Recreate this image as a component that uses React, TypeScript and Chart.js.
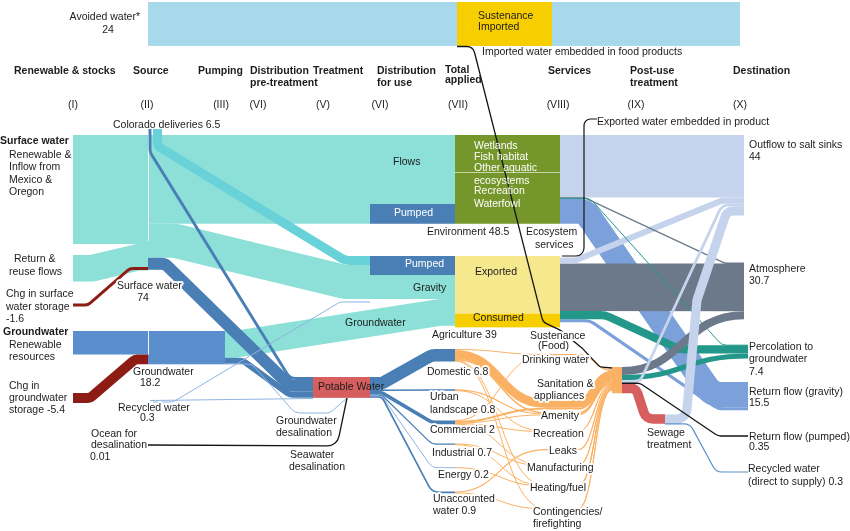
import React, { useEffect, useRef } from 'react';
import { Chart, registerables } from 'chart.js';

Chart.register(...registerables);

// ---------------- DATA (volumes) ----------------
const avoidedWater = 24;

const stockNames = ['Renewable & inflow', 'Return & reuse flows', 'Chg in surface water storage', 'Groundwater renewable resources', 'Chg in groundwater storage'];
const stockValues = [59.5, 14.5, -1.6, 12.8, -5.4];

const sourceNames = ['Surface water', 'Groundwater', 'Colorado deliveries', 'Recycled water', 'Ocean for desalination'];
const sourceValues = [74, 18.2, 6.5, 0.3, 0.01];

// surface water -> env flows, env pumped, agriculture, potable
const surfaceSplit = [37.7, 10.8, 18.6, 6.5];
// Colorado -> agriculture, potable
const coloradoSplit = [4.9, 1.6];
// groundwater -> agriculture, potable, desalination
const groundwaterSplit = [14.6, 3.3, 0.3];
// recycled -> agriculture, potable
const recycledSplit = [0.15, 0.15];
const agPumped = 10.4;

const appliedNames = ['Environment', 'Agriculture', 'Domestic', 'Urban landscape', 'Commercial', 'Industrial', 'Energy', 'Unaccounted water'];
const appliedValues = [48.5, 39, 6.8, 0.8, 2, 0.7, 0.2, 0.9];
const agricultureSplit = [31.5, 7.5]; // exported, consumed

const serviceNames = ['Drinking water', 'Sanitation & appliances', 'Amenity', 'Recreation', 'Leaks', 'Manufacturing', 'Heating/fuel', 'Contingencies/firefighting'];
// [applied index, service index, value]
const serviceFlows: [number, number, number][] = [
  [2, 0, 0.5], [2, 1, 4.8], [2, 2, 0.8], [2, 6, 0.3], [2, 7, 0.4],
  [3, 2, 0.6], [3, 3, 0.2],
  [4, 0, 0.2], [4, 1, 1.0], [4, 2, 0.4], [4, 3, 0.2], [4, 5, 0.2],
  [5, 5, 0.5], [5, 6, 0.2],
  [6, 6, 0.2],
  [7, 4, 0.7], [7, 7, 0.2],
];

// environment -> outflow, atmosphere, percolation, return (gravity)
const envOut = [34.2, 0.3, 0.2, 13.8];
// agriculture -> outflow, atmosphere, percolation, return (gravity)
const agOut = [3.3, 26, 4.4, 1.7];
// post-use -> atmosphere, percolation, outflow, return (pumped), sewage
const postOut = [4.4, 2.8, 1.5, 0.35, 5.3];
// sewage -> outflow, recycled
const sewageOut = [5.0, 0.3];

const destNames = ['Outflow to salt sinks', 'Atmosphere', 'Percolation to groundwater', 'Return flow (gravity)', 'Return flow (pumped)', 'Recycled water (direct to supply)'];
const destValues = [44, 30.7, 7.4, 15.5, 0.35, 0.3];

// ---------------- LAYOUT & STYLE ----------------
const K = 1.83; // layout units per volume unit
const FONT = '"Liberation Sans", Arial, sans-serif';
const C = {
  avoided: '#a8d8ec', gold: '#f7ce00', teal: '#8ce0d8', colorado: '#68d2d8', blue: '#4a7fb6',
  gw: '#5b8ecc', red: '#8c1c14', potable: '#d65e5e', green: '#74962a', exported: '#f6e88c',
  consumed: '#f7ce00', outflow: '#c5d4ec', ret: '#7ca0da', grey: '#6b798a', perc: '#23988a',
  orange: '#fbb163', light: '#8fb3e0', black: '#151515',
};
const appliedTops = [349, 389.3, 420.5, 443.5, 467.5, 491.5];
const serviceTops = [354, 399, 412, 431, 449, 465, 485, 508];

type P = [number, number];
const link = (x0: number, y0: number, xa: number, xb: number, x1: number, y1: number): P[] => [[x0, y0], [xa, y0], [xb, y1], [x1, y1]];

const sankeyPlugin = {
  id: 'waterSankey',
  afterDraw(chart: any) {
    const ctx: CanvasRenderingContext2D = chart.ctx;
    const xs = chart.scales.x, ys = chart.scales.y;
    const X = (v: number) => xs.getPixelForValue(v);
    const Y = (v: number) => ys.getPixelForValue(v);
    const T = (v: number) => Math.abs(v) * K;
    const W = (v: number, min = 1) => Math.max(min, Math.abs(Y(T(v)) - Y(0)));
    const sum = (a: number[]) => a.reduce((s, v) => s + v, 0);
    const stackC = (top: number, vals: number[]) => {
      let y = top;
      return vals.map((v) => { const c = y + T(v) / 2; y += T(v); return c; });
    };

    const rect = (x0: number, x1: number, top: number, value: number, color: string) => {
      ctx.fillStyle = color;
      ctx.fillRect(X(x0), Y(top), X(x1) - X(x0), Y(top + T(value)) - Y(top));
    };
    const trace = (pts: P[], mode: string, r: number) => {
      const q = pts.map(([x, y]) => [X(x), Y(y)]);
      ctx.beginPath();
      ctx.moveTo(q[0][0], q[0][1]);
      if (mode === 'curve') {
        for (let i = 1; i < q.length; i++) {
          const [x0, y0] = q[i - 1];
          const [x1, y1] = q[i];
          const dx = (x1 - x0) * r;
          ctx.bezierCurveTo(x0 + dx, y0, x1 - dx, y1, x1, y1);
        }
      } else {
        for (let i = 1; i < q.length - 1; i++) {
          const [ax, ay] = q[i - 1];
          const [bx, by] = q[i];
          const [cx, cy] = q[i + 1];
          const l1 = Math.hypot(bx - ax, by - ay);
          const l2 = Math.hypot(cx - bx, cy - by);
          ctx.arcTo(bx, by, cx, cy, Math.min(r, l1 / 2, l2 / 2));
        }
        ctx.lineTo(q[q.length - 1][0], q[q.length - 1][1]);
      }
    };
    const flow = (pts: P[], value: number, color: string, mode = 'round', r = 14, min = 1) => {
      trace(pts, mode, r);
      ctx.lineWidth = W(value, min);
      ctx.strokeStyle = color;
      ctx.lineCap = 'butt';
      ctx.lineJoin = 'round';
      ctx.stroke();
    };
    const line = (pts: P[], color: string, w: number, r = 10) => {
      trace(pts, 'round', r);
      ctx.lineWidth = w;
      ctx.strokeStyle = color;
      ctx.lineCap = 'butt';
      ctx.lineJoin = 'round';
      ctx.stroke();
    };
    const txt = (s: string, x: number, y: number, o: any = {}) => {
      ctx.font = `${o.bold ? 'bold ' : ''}10.5px ${FONT}`;
      ctx.textAlign = o.align || 'left';
      ctx.textBaseline = 'middle';
      if (o.halo) {
        ctx.strokeStyle = 'rgba(255,255,255,0.95)';
        ctx.lineWidth = 4;
        ctx.lineJoin = 'round';
        ctx.strokeText(s, X(x), Y(y));
      }
      ctx.fillStyle = o.color || '#1c1c1c';
      ctx.fillText(s, X(x), Y(y));
    };

    ctx.save();

    // ---- avoided water / imported sustenance ----
    rect(148, 740, 2, avoidedWater, C.avoided);
    rect(457, 552, 2, avoidedWater, C.gold);

    // ---- renewable & stocks -> sources ----
    const renewC = 135 + T(stockValues[0]) / 2;
    flow([[73, renewC], [148, renewC]], stockValues[0], C.teal);
    const swRenewBottom = 135 + T(stockValues[0]);
    flow(link(73, 255 + T(stockValues[1]) / 2, 92, 138, 148, swRenewBottom + T(stockValues[1]) / 2), stockValues[1], C.teal, 'round', 20);

    const swC = stackC(135, surfaceSplit);
    const agIn = stackC(256, [coloradoSplit[0], surfaceSplit[2], groundwaterSplit[0]]);
    const potIn = stackC(377, [coloradoSplit[1], surfaceSplit[3], groundwaterSplit[1]]);
    const gwC = stackC(331, groundwaterSplit);

    flow([[148, swC[0]], [455, swC[0]]], surfaceSplit[0], C.teal);
    flow([[148, swC[1]], [370, swC[1]]], surfaceSplit[1], C.teal);
    flow(link(148, swC[2], 175, 345, 455, agIn[1]), surfaceSplit[2], C.teal, 'round', 25);
    flow(link(225, gwC[0], 235, 440, 455, agIn[2]), groundwaterSplit[0], C.teal, 'round', 60);

    // faint separator of the surface-water node
    ctx.fillStyle = 'rgba(255,255,255,0.9)';
    ctx.fillRect(X(148), Y(135), 1, Y(swC[2]) - Y(135));

    // Colorado deliveries
    flow([[157.5, 129], [157.5, 146], [345, agIn[0]], [455, agIn[0]]], coloradoSplit[0], C.colorado, 'round', 14);

    // storage changes
    flow(link(73, 305, 88, 130, 148, 268.5), stockValues[2], C.red, 'round', 8);
    const gwRenC = 331 + T(stockValues[3]) / 2;
    flow([[73, gwRenC], [148, gwRenC]], stockValues[3], C.gw);
    flow(link(73, 393 + T(stockValues[4]) / 2, 90, 135, 148, 331 + T(stockValues[3]) + T(stockValues[4]) / 2), stockValues[4], C.red, 'round', 14);
    rect(148, 225, 331, sourceValues[1], C.gw);
    ctx.fillStyle = 'rgba(255,255,255,0.9)';
    ctx.fillRect(X(148), Y(331), 1, Y(331 + T(stockValues[3])) - Y(331));

    // to potable water
    flow([[150, 129], [150, 152], [290, potIn[0]], [313, potIn[0]]], coloradoSplit[1], C.blue, 'round', 10);
    flow(link(148, swC[3], 165, 290, 313, potIn[1]), surfaceSplit[3], C.blue, 'round', 16);
    flow(link(225, gwC[1], 243, 290, 313, potIn[2]), groundwaterSplit[1], C.blue, 'round', 10);
    flow([[225, gwC[2]], [252, gwC[2]], [295, 413], [330, 413], [347, 398]], groundwaterSplit[2], C.light, 'round', 10, 1);
    flow([[153, 402], [173, 402], [340, 302], [370, 302]], recycledSplit[0], C.light, 'round', 10, 1);
    flow([[150, 400.5], [313, 398.5]], recycledSplit[1], C.light, 'round', 10, 1);
    flow([[148, 445], [337, 446], [347, 398]], sourceValues[4], C.black, 'round', 12, 1.3);

    // distribution boxes
    rect(370, 455, swC[1] - T(surfaceSplit[1]) / 2, surfaceSplit[1], C.blue);
    rect(370, 455, 256, agPumped, C.blue);

    // potable water node and its distribution
    const potableTotal = sum(appliedValues.slice(2));
    rect(313, 370, 377, potableTotal, C.potable);
    const potOut = stackC(377, appliedValues.slice(2));
    appliedValues.slice(2).forEach((v, i) => {
      const aC = appliedTops[i] + T(v) / 2;
      const col = i === 4 ? C.light : C.blue;
      flow(link(370, potOut[i], 382, 432, 455, aC), v, col, 'round', 30, 1);
    });

    // total applied nodes
    rect(455, 560, 135, appliedValues[0], C.green);
    ctx.fillStyle = 'rgba(255,255,255,0.6)';
    ctx.fillRect(X(455), Y(172), X(560) - X(455), 1);
    rect(455, 560, 256, agricultureSplit[0], C.exported);
    rect(455, 560, 256 + T(agricultureSplit[0]), agricultureSplit[1], C.consumed);

    // ---- right side ----
    const envC = stackC(135, envOut);
    const agC = stackC(257.5, agOut);
    const postTop = 367;
    const postC = stackC(postTop, postOut);
    const outC = stackC(135, [envOut[0], agOut[0], postOut[2], sewageOut[0]]);
    const atmC = stackC(263, [envOut[1], agOut[1], postOut[0]]);
    const percC = stackC(345, [envOut[2], agOut[2], postOut[1]]);
    const retC = stackC(382, [envOut[3], agOut[3]]);
    const sewTop = 419 - T(sewageOut[0]) / 2;
    const sewC = stackC(sewTop, sewageOut);

    flow([[560, envC[0]], [744, outC[0]]], envOut[0], C.outflow);
    flow(link(560, envC[3], 585, 712, 748, retC[0]), envOut[3], C.ret, 'round', 30);
    flow([[560, agC[1]], [744, atmC[1]]], agOut[1], C.grey);
    flow(link(560, agC[3], 590, 718, 748, retC[1]), agOut[3], C.ret, 'round', 15);
    flow(link(560, agC[0], 575, 722, 744, outC[1]), agOut[0], C.outflow, 'round', 30);
    flow(link(560, envC[1], 585, 725, 744, atmC[0]), envOut[1], C.grey, 'round', 10, 1.3);
    flow(link(560, envC[2], 590, 722, 748, percC[0]), envOut[2], C.perc, 'round', 10, 1);
    flow(link(560, agC[2], 605, 680, 748, percC[1]), agOut[2], C.perc, 'round', 20);

    // post-use outputs
    flow([[622, postC[0]], [744, atmC[2]]], postOut[0], C.grey, 'curve', 0.5);
    flow([[622, postC[1]], [748, percC[2]]], postOut[1], C.perc, 'curve', 0.5);
    flow(link(622, postC[2], 640, 722, 744, outC[2]), postOut[2], C.outflow, 'round', 15);
    flow([[665, sewC[0]], [686, sewC[0]], [697, 300], [727, outC[3]], [744, outC[3]]], sewageOut[0], C.outflow, 'round', 14);
    flow([[622, postC[4]], [636, postC[4]], [646, 419], [665, 419]], postOut[4], C.potable, 'round', 10);
    flow(link(622, postC[3], 640, 718, 748, 436), postOut[3], C.black, 'round', 10, 1.3);
    flow(link(665, sewC[1], 690, 716, 748, 472), sewageOut[1], C.gw, 'round', 10, 1.2);

    // ---- orange service flows ----
    const aOff = appliedTops.map((t) => t);
    const sOff = serviceTops.map((t) => t);
    let pOff = 369.5;
    const byApplied = [...serviceFlows].sort((a, b) => a[0] - b[0] || a[1] - b[1]);
    const startC = new Map<number, number>();
    byApplied.forEach((f, k) => { const i = f[0] - 2; startC.set(k, aOff[i] + T(f[2]) / 2); aOff[i] += T(f[2]); });
    const idxs = byApplied.map((_, k) => k);
    const svcC = new Map<number, number>();
    [...idxs].sort((a, b) => byApplied[a][1] - byApplied[b][1] || byApplied[a][0] - byApplied[b][0]).forEach((k) => {
      const f = byApplied[k];
      svcC.set(k, sOff[f[1]] + T(f[2]) / 2); sOff[f[1]] += T(f[2]);
    });
    const postInC = new Map<number, number>();
    [...idxs].sort((a, b) => byApplied[a][1] - byApplied[b][1] || byApplied[a][0] - byApplied[b][0]).forEach((k) => {
      const f = byApplied[k];
      postInC.set(k, pOff + T(f[2]) / 2); pOff += T(f[2]);
    });
    idxs.forEach((k) => {
      const f = byApplied[k];
      const sc = svcC.get(k)!;
      flow([[455, startC.get(k)!], [545, sc], [578, sc], [612, postInC.get(k)!]], f[2], C.orange, 'curve', 0.5, 1);
    });
    const postTotal = sum(postOut);
    rect(612, 622, postTop, postTotal, C.orange);

    // ---- ecosystem services box & annotation lines ----
    ctx.fillStyle = '#ffffff';
    ctx.beginPath();
    (ctx as any).roundRect(X(425), Y(226), X(584) - X(425), Y(256) - Y(226), 8);
    ctx.fill();
    line([[597, 119], [584, 119], [584, 256], [562, 256]], C.black, 1.2, 8);
    line([[457, 46.5], [473, 46.5], [543, 322], [560, 330], [582, 348], [600, 367], [612, 368]], C.black, 1.3, 8);

    // ---- texts ----
    txt('Avoided water*', 140, 17, { align: 'right' });
    txt(`${avoidedWater}`, 108, 30, { align: 'center' });
    txt('Sustenance', 478, 16);
    txt('Imported', 478, 27);
    txt('Imported water embedded in food products', 482, 52);

    const headers: [string, number, number][] = [
      ['Renewable & stocks', 14, 71], ['Source', 133, 71], ['Pumping', 198, 71], ['Distribution', 250, 71],
      ['pre-treatment', 250, 83], ['Treatment', 313, 71], ['Distribution', 377, 71], ['for use', 377, 83],
      ['Total', 445, 70], ['applied', 445, 80], ['Services', 548, 71], ['Post-use', 630, 71],
      ['treatment', 630, 83], ['Destination', 733, 71],
    ];
    headers.forEach(([s, x, y]) => txt(s, x, y, { bold: true }));
    const numerals: [string, number][] = [['(I)', 73], ['(II)', 147], ['(III)', 221], ['(VI)', 258], ['(V)', 323], ['(VI)', 380], ['(VII)', 458], ['(VIII)', 558], ['(IX)', 636], ['(X)', 740]];
    numerals.forEach(([s, x]) => txt(s, x, 105, { align: 'center' }));

    txt(`${sourceNames[2]} ${sourceValues[2]}`, 113, 125);
    txt('Exported water embedded in product', 597, 122);

    txt('Surface water', 0, 141, { bold: true });
    ['Renewable &', 'Inflow from', 'Mexico &', 'Oregon'].forEach((s, i) => txt(s, 9, [155, 167, 180, 192][i]));
    txt('Return &', 14, 259);
    txt('reuse flows', 9, 272);
    txt('Chg in surface', 6, 294);
    txt('water storage', 6, 307);
    txt(`${stockValues[2]}`, 6, 319);
    txt(sourceNames[0], 117, 286, { halo: true });
    txt(`${sourceValues[0]}`, 143, 298, { align: 'center' });
    txt('Groundwater', 3, 332, { bold: true });
    txt('Renewable', 9, 345);
    txt('resources', 9, 357);
    txt('Chg in', 9, 386);
    txt('groundwater', 9, 398);
    txt(`storage ${stockValues[4]}`, 9, 410);
    txt(sourceNames[1], 133, 372);
    txt(`${sourceValues[1]}`, 140, 383);
    txt(sourceNames[3], 118, 408, { halo: true });
    txt(`${sourceValues[3]}`, 140, 418);
    txt('Ocean for', 91, 434);
    txt('desalination', 91, 445);
    txt(`${sourceValues[4]}`, 90, 457);
    txt('Groundwater', 276, 421, { halo: true });
    txt('desalination', 276, 433, { halo: true });
    txt('Seawater', 290, 455);
    txt('desalination', 289, 467);

    txt('Flows', 393, 162);
    txt('Pumped', 394, 213, { color: '#ffffff' });
    txt('Pumped', 405, 264, { color: '#ffffff' });
    txt('Gravity', 413, 288);
    txt('Groundwater', 345, 323);
    txt(`${appliedNames[0]} ${appliedValues[0]}`, 427, 232);
    txt('Ecosystem', 526, 232);
    txt('services', 535, 245);
    ['Wetlands', 'Fish habitat', 'Other aquatic', 'ecosystems', 'Recreation', 'Waterfowl'].forEach((s, i) =>
      txt(s, 474, [146, 157, 168, 181, 191, 204][i], { color: '#ffffff' }));
    txt('Exported', 475, 272);
    txt('Consumed', 473, 318);
    txt(`${appliedNames[1]} ${appliedValues[1]}`, 432, 335, { halo: true });
    txt('Potable Water', 318, 387);
    txt(`${appliedNames[2]} ${appliedValues[2]}`, 427, 372, { halo: true });
    txt('Urban', 430, 397, { halo: true });
    txt(`landscape ${appliedValues[3]}`, 430, 410, { halo: true });
    txt(`${appliedNames[4]} ${appliedValues[4]}`, 430, 430, { halo: true });
    txt(`${appliedNames[5]} ${appliedValues[5]}`, 432, 453, { halo: true });
    txt(`${appliedNames[6]} ${appliedValues[6]}`, 438, 475, { halo: true });
    txt('Unaccounted', 433, 499, { halo: true });
    txt(`water ${appliedValues[7]}`, 433, 511, { halo: true });

    const svcLabels: [string, number, number][] = [
      ['Sustenance', 530, 336], ['(Food)', 538, 346], [serviceNames[0], 522, 360], ['Sanitation &', 537, 384],
      ['appliances', 534, 396], [serviceNames[2], 541, 416], [serviceNames[3], 533, 434], [serviceNames[4], 549, 451],
      [serviceNames[5], 527, 468], [serviceNames[6], 530, 488], ['Contingencies/', 533, 512], ['firefighting', 533, 524],
    ];
    svcLabels.forEach(([s, x, y]) => txt(s, x, y, { halo: true }));
    txt('Sewage', 647, 433, { halo: true });
    txt('treatment', 647, 445, { halo: true });

    txt(destNames[0], 749, 145); txt(`${destValues[0]}`, 749, 157);
    txt(destNames[1], 749, 269); txt(`${destValues[1]}`, 749, 281);
    txt('Percolation to', 749, 347); txt('groundwater', 749, 359); txt(`${destValues[2]}`, 749, 372);
    txt(destNames[3], 749, 392); txt(`${destValues[3]}`, 749, 403);
    txt(destNames[4], 749, 437); txt(`${destValues[4]}`, 749, 447);
    txt('Recycled water', 748, 469); txt(`(direct to supply) ${destValues[5]}`, 748, 482);

    ctx.restore();
  },
};

export default function App() {
  const ref = useRef<HTMLCanvasElement>(null);
  useEffect(() => {
    document.body.style.margin = '0';
    const chart = new Chart(ref.current as HTMLCanvasElement, {
      type: 'scatter',
      data: { datasets: [{ data: [] }] },
      options: {
        animation: false,
        responsive: false,
        devicePixelRatio: 1,
        events: [],
        layout: { padding: 0 },
        plugins: { legend: { display: false }, tooltip: { enabled: false } },
        scales: {
          x: { type: 'linear', min: 0, max: 850, display: false },
          y: { type: 'linear', min: 0, max: 531, reverse: true, display: false },
        },
      },
      plugins: [sankeyPlugin],
    } as any);
    return () => chart.destroy();
  }, []);
  return <canvas ref={ref} width={850} height={531} style={{ display: 'block' }} />;
}
